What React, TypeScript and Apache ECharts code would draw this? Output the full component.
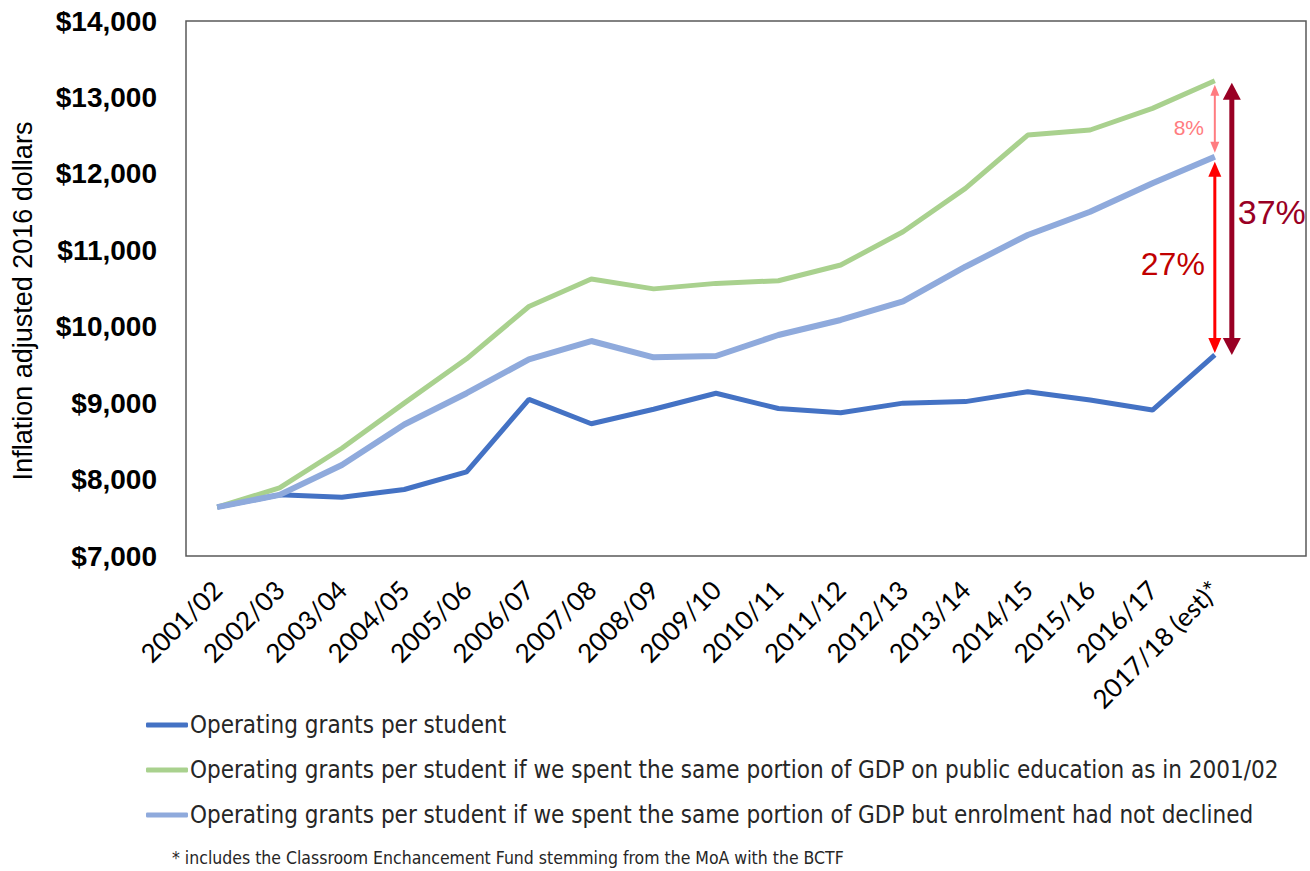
import React, { useEffect, useRef } from 'react';
import * as echarts from 'echarts';

const categories = [
  '2001/02', '2002/03', '2003/04', '2004/05', '2005/06', '2006/07', '2007/08', '2008/09',
  '2009/10', '2010/11', '2011/12', '2012/13', '2013/14', '2014/15', '2015/16', '2016/17',
  '2017/18 (est)*',
];

const operatingGrants = [7640, 7800, 7770, 7870, 8100, 9050, 8730, 8920, 9130, 8930, 8875, 9000, 9020, 9150, 9040, 8910, 9630];
const gdpSameShare = [7640, 7890, 8410, 9000, 9580, 10265, 10625, 10495, 10567, 10602, 10807, 11243, 11810, 12508, 12574, 12857, 13219];
const gdpNoDecline = [7640, 7800, 8190, 8720, 9130, 9573, 9813, 9600, 9617, 9892, 10088, 10330, 10785, 11200, 11505, 11876, 12224];

const seriesNames = [
  'Operating grants per student',
  'Operating grants per student if we spent the same portion of GDP on public education as in 2001/02',
  'Operating grants per student if we spent the same portion of GDP but enrolment had not declined',
];

const yMin = 7000;
const yMax = 14000;
const yStep = 1000;

const yTitle = 'Inflation adjusted 2016 dollars';
const footnote = '* includes the Classroom Enchancement Fund stemming from the MoA with the BCTF';
const gapLabels = ['8%', '27%', '37%'];

export default function App() {
  const ref = useRef<HTMLDivElement>(null);

  useEffect(() => {
    const el = ref.current;
    if (!el) return;
    const chart = echarts.init(el, null, { renderer: 'svg' });

    const gridLeft = 186;
    const gridTop = 21;
    const gridRight = 64;
    const gridBottom = 315;
    const frameRight = 1306;

    chart.setOption({
      animation: false,
      backgroundColor: '#ffffff',
      grid: { left: gridLeft, top: gridTop, right: gridRight, bottom: gridBottom, containLabel: false },
      legend: {
        orient: 'vertical',
        left: 141,
        top: 708,
        itemWidth: 42,
        itemHeight: 5,
        itemGap: 21,
        icon: 'roundRect',
        itemStyle: { borderWidth: 0 },
        textStyle: { fontFamily: 'DejaVu Sans Condensed', fontSize: 24, color: '#262626', padding: [0, 0, 0, -3] },
        data: seriesNames,
      },
      xAxis: {
        type: 'category',
        data: categories,
        boundaryGap: true,
        axisLine: { show: false },
        axisTick: { show: false },
        splitLine: { show: false },
        axisLabel: {
          rotate: 45,
          interval: 0,
          margin: 29,
          fontFamily: 'Lato',
          fontSize: 26,
          color: '#000000',
        },
      },
      yAxis: {
        type: 'value',
        min: yMin,
        max: yMax,
        interval: yStep,
        axisLine: { show: false },
        axisTick: { show: false },
        splitLine: { show: false },
        axisLabel: {
          margin: 29,
          fontFamily: 'Liberation Sans',
          fontWeight: 'bold',
          fontSize: 28,
          color: '#000000',
          formatter: (v: number) => '$' + v.toLocaleString('en-US'),
        },
      },
      series: [
        {
          name: seriesNames[0],
          type: 'line',
          data: operatingGrants,
          symbol: 'none',
          color: '#4472C4',
          lineStyle: { width: 5, color: '#4472C4' },
          z: 2,
        },
        {
          name: seriesNames[1],
          type: 'line',
          data: gdpSameShare,
          symbol: 'none',
          color: '#A9D18E',
          lineStyle: { width: 5, color: '#A9D18E' },
          z: 3,
        },
        {
          name: seriesNames[2],
          type: 'line',
          data: gdpNoDecline,
          symbol: 'none',
          color: '#8FAADC',
          lineStyle: { width: 6, color: '#8FAADC' },
          z: 4,
        },
      ],
    });

    const last = categories.length - 1;
    const toPx = (v: number) => chart.convertToPixel({ xAxisIndex: 0, yAxisIndex: 0 }, [last, v]) as number[];
    const pG = toPx(gdpSameShare[last]);
    const pE = toPx(gdpNoDecline[last]);
    const pO = toPx(operatingGrants[last]);

    const arrow = (x: number, y1: number, y2: number, color: string, lw: number, hw: number, hl: number) => [
      { type: 'line', z: 10, shape: { x1: x, y1: y1 + hl - 1, x2: x, y2: y2 - hl + 1 }, style: { stroke: color, lineWidth: lw } },
      { type: 'polygon', z: 10, shape: { points: [[x, y1], [x - hw / 2, y1 + hl], [x + hw / 2, y1 + hl]] }, style: { fill: color } },
      { type: 'polygon', z: 10, shape: { points: [[x, y2], [x - hw / 2, y2 - hl], [x + hw / 2, y2 - hl]] }, style: { fill: color } },
    ];

    const x0 = pG[0];
    const xDark = x0 + 17;

    const graphic: any[] = [
      {
        type: 'rect',
        z: 0,
        shape: { x: gridLeft, y: gridTop, width: frameRight - gridLeft, height: 871 - gridBottom - gridTop },
        style: { fill: 'none', stroke: '#595959', lineWidth: 1.5 },
        silent: true,
      },
      {
        type: 'text',
        x: 23,
        y: 301,
        rotation: Math.PI / 2,
        style: {
          text: yTitle,
          fontFamily: 'Liberation Sans',
          fontSize: 27,
          fill: '#000000',
          align: 'center',
          verticalAlign: 'middle',
        },
      },
      {
        type: 'text',
        x: 172,
        y: 858,
        style: {
          text: footnote,
          fontFamily: 'DejaVu Sans Condensed',
          fontSize: 17.5,
          fill: '#262626',
          align: 'left',
          verticalAlign: 'middle',
        },
      },
      ...arrow(x0, pG[1] + 4, pE[1] - 4, '#FF7C80', 2, 9, 11),
      ...arrow(x0, pE[1] + 5, pO[1] - 2, '#FF0000', 3, 13, 15),
      ...arrow(xDark, pG[1] + 2, pO[1], '#990024', 5, 18, 17),
      {
        type: 'text',
        x: x0 - 26,
        y: (pG[1] + pE[1]) / 2 + 9,
        style: { text: gapLabels[0], fontFamily: 'Liberation Sans', fontSize: 21, fill: '#FF7C80', align: 'center', verticalAlign: 'middle' },
      },
      {
        type: 'text',
        x: x0 - 42,
        y: (pE[1] + pO[1]) / 2 + 8,
        style: { text: gapLabels[1], fontFamily: 'Liberation Sans', fontSize: 32, fill: '#C00000', align: 'center', verticalAlign: 'middle' },
      },
      {
        type: 'text',
        x: xDark + 40,
        y: (pG[1] + pO[1]) / 2 - 6,
        style: { text: gapLabels[2], fontFamily: 'Liberation Sans', fontSize: 34, fill: '#990024', align: 'center', verticalAlign: 'middle' },
      },
    ];

    chart.setOption({ graphic });

    return () => {
      chart.dispose();
    };
  }, []);

  return (
    <div
      ref={ref}
      style={{ position: 'fixed', left: 0, top: 0, width: '1310px', height: '871px', background: '#fff' }}
    />
  );
}
